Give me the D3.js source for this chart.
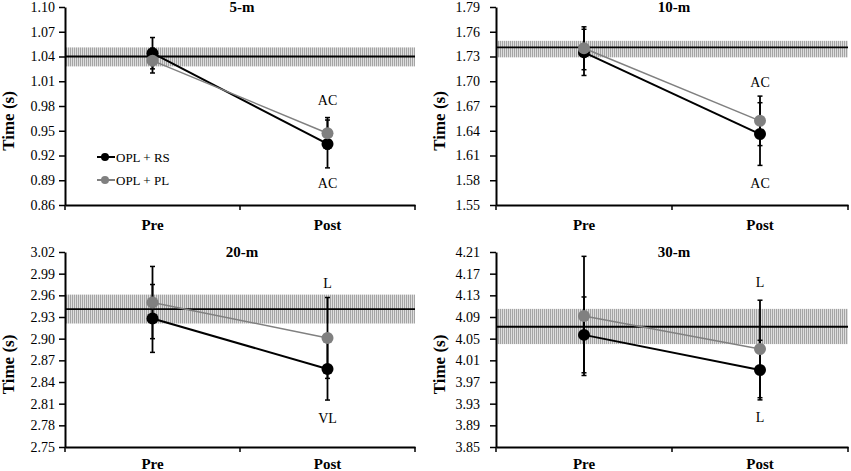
<!DOCTYPE html>
<html>
<head>
<meta charset="utf-8">
<script src="https://cdn.jsdelivr.net/npm/d3@7"></script>
<style>
  body { margin: 0; background: #fff; }
  text { font-family: 'Liberation Serif', 'Times New Roman', serif; }
</style>
</head>
<body>
<div id="chart"></div>
<script>
const width = 851;
const height = 471;

const phases = ['Pre', 'Post'];
const panelTitles = ['5-m', '10-m', '20-m', '30-m'];
const yDomains = [[0.86, 1.10], [1.55, 1.79], [2.75, 3.02], [3.85, 4.21]];
const yTickSteps = [0.03, 0.03, 0.03, 0.04];

// group means [Pre, Post]
const rsMeans = [[1.044, 0.934], [1.735, 1.636], [2.928, 2.858], [4.057, 3.992]];
const plMeans = [[1.035, 0.947], [1.740, 1.652], [2.950, 2.901], [4.092, 4.031]];
// error bar half-widths [Pre, Post]
const rsErrors = [[0.019, 0.029], [0.028, 0.038], [0.047, 0.043], [0.070, 0.055]];
const plErrors = [[0.015, 0.019], [0.026, 0.030], [0.050, 0.056], [0.110, 0.090]];

// reference line and shaded band
const refValues = [1.040, 1.741, 2.941, 4.072];
const bandLow = [1.028, 1.729, 2.921, 4.040];
const bandHigh = [1.051, 1.749, 2.961, 4.105];

// effect size labels at Post [above, below]
const postLabels = [['AC', 'AC'], ['AC', 'AC'], ['L', 'VL'], ['L', 'L']];
const labelY = [[0.987, 0.886], [1.699, 1.576], [2.977, 2.790], [4.154, 3.905]];

const legendNames = ['OPL + RS', 'OPL + PL'];
const seriesColors = ['#000000', '#808080'];

const panels = [
  { left: 65, right: 415, top: 7, bottom: 205, pad: 4, catY: 25 },
  { left: 496, right: 848, top: 7, bottom: 205, pad: 10, catY: 25 },
  { left: 65, right: 415, top: 252, bottom: 447, pad: 4, catY: 22 },
  { left: 496, right: 848, top: 252, bottom: 447, pad: 10, catY: 22 },
];

const svg = d3.select('#chart').append('svg')
  .attr('width', width)
  .attr('height', height);

// fine vertical hatch for the band
const pattern = svg.append('defs').append('pattern')
  .attr('id', 'hatch')
  .attr('patternUnits', 'userSpaceOnUse')
  .attr('width', 2)
  .attr('height', 10);
pattern.append('rect').attr('width', 2).attr('height', 10).attr('fill', '#dedede');
pattern.append('rect').attr('width', 1).attr('height', 10).attr('fill', '#a4a4a4');

function drawPanel(i) {
  const p = panels[i];
  const g = svg.append('g');

  const x = d3.scaleBand().domain(phases).range([p.left, p.right]);
  const y = d3.scaleLinear().domain(yDomains[i]).range([p.bottom, p.top]);
  const ticks = d3.range(yDomains[i][0], yDomains[i][1] + 1e-9, yTickSteps[i]);
  const cx = d => x(d) + x.bandwidth() / 2;

  // band + reference line
  g.append('rect')
    .attr('x', p.left)
    .attr('width', p.right - p.left)
    .attr('y', y(bandHigh[i]))
    .attr('height', y(bandLow[i]) - y(bandHigh[i]))
    .attr('fill', 'url(#hatch)');
  g.append('line')
    .attr('x1', p.left).attr('x2', p.right)
    .attr('y1', y(refValues[i])).attr('y2', y(refValues[i]))
    .attr('stroke', '#000').attr('stroke-width', 1.8);

  // axes
  const yAxis = g.append('g')
    .attr('transform', `translate(${p.left},0)`)
    .call(d3.axisLeft(y).tickValues(ticks).tickFormat(d3.format('.2f'))
      .tickSize(6).tickPadding(p.pad).tickSizeOuter(0));
  yAxis.select('.domain').attr('stroke-width', 2);
  yAxis.selectAll('.tick line').attr('stroke-width', 1.5);
  yAxis.selectAll('text').attr('font-size', 14).attr('fill', '#000')
    .style('font-family', "'Liberation Serif', serif");

  const xAxis = g.append('g')
    .attr('transform', `translate(0,${p.bottom})`)
    .call(d3.axisBottom(x).tickValues([]).tickSizeOuter(0));
  xAxis.select('.domain').attr('stroke-width', 2);
  [p.left, (p.left + p.right) / 2, p.right].forEach(tx => {
    g.append('line')
      .attr('x1', tx).attr('x2', tx)
      .attr('y1', p.bottom).attr('y2', p.bottom + 5)
      .attr('stroke', '#000').attr('stroke-width', 1.5);
  });
  g.selectAll('text.cat')
    .data(phases)
    .enter()
    .append('text')
    .attr('class', 'cat')
    .attr('x', d => cx(d))
    .attr('y', p.bottom + p.catY)
    .attr('text-anchor', 'middle')
    .attr('font-size', 15)
    .attr('font-weight', 'bold')
    .text(d => d);

  // title
  g.append('text')
    .attr('x', (p.left + p.right) / 2 + 2)
    .attr('y', p.top + 5)
    .attr('text-anchor', 'middle')
    .attr('font-size', 15)
    .attr('font-weight', 'bold')
    .text(panelTitles[i]);

  // y label
  g.append('text')
    .attr('transform', `translate(${p.left - 51},${(p.top + p.bottom) / 2 + 15}) rotate(-90)`)
    .attr('text-anchor', 'middle')
    .attr('font-size', 17)
    .attr('font-weight', 'bold')
    .text('Time (s)');

  const series = [
    { means: rsMeans[i], errs: rsErrors[i], color: seriesColors[0], lw: 2 },
    { means: plMeans[i], errs: plErrors[i], color: seriesColors[1], lw: 1.5 },
  ];

  // error bars
  series.forEach(s => {
    phases.forEach((ph, j) => {
      const lo = y(s.means[j] - s.errs[j]);
      const hi = y(s.means[j] + s.errs[j]);
      g.append('line')
        .attr('x1', cx(ph)).attr('x2', cx(ph))
        .attr('y1', lo).attr('y2', hi)
        .attr('stroke', '#000').attr('stroke-width', 1.8);
      [lo, hi].forEach(v => {
        g.append('line')
          .attr('x1', cx(ph) - 2.5).attr('x2', cx(ph) + 2.5)
          .attr('y1', v).attr('y2', v)
          .attr('stroke', '#000').attr('stroke-width', 1.5);
      });
    });
  });

  // lines + markers
  const line = d3.line().x((d, j) => cx(phases[j])).y(d => y(d));
  series.forEach(s => {
    g.append('path')
      .datum(s.means)
      .attr('d', line)
      .attr('fill', 'none')
      .attr('stroke', s.color)
      .attr('stroke-width', s.lw);
    g.selectAll(null)
      .data(s.means)
      .enter()
      .append('circle')
      .attr('cx', (d, j) => cx(phases[j]))
      .attr('cy', d => y(d))
      .attr('r', 6)
      .attr('fill', s.color);
  });

  // effect size labels
  postLabels[i].forEach((lab, k) => {
    g.append('text')
      .attr('x', cx('Post'))
      .attr('y', y(labelY[i][k]))
      .attr('dy', '0.35em')
      .attr('text-anchor', 'middle')
      .attr('font-size', 14)
      .text(lab);
  });
}

panelTitles.forEach((t, i) => drawPanel(i));

// legend in first panel
const legend = svg.append('g');
legendNames.forEach((name, k) => {
  const ly = 157 + k * 23;
  legend.append('line')
    .attr('x1', 97).attr('x2', 115)
    .attr('y1', ly).attr('y2', ly)
    .attr('stroke', seriesColors[k]).attr('stroke-width', 2);
  legend.append('circle')
    .attr('cx', 105).attr('cy', ly).attr('r', 4)
    .attr('fill', seriesColors[k]);
  legend.append('text')
    .attr('x', 116).attr('y', ly)
    .attr('dy', '0.35em')
    .attr('font-size', 13)
    .text(name);
});
</script>
</body>
</html>
